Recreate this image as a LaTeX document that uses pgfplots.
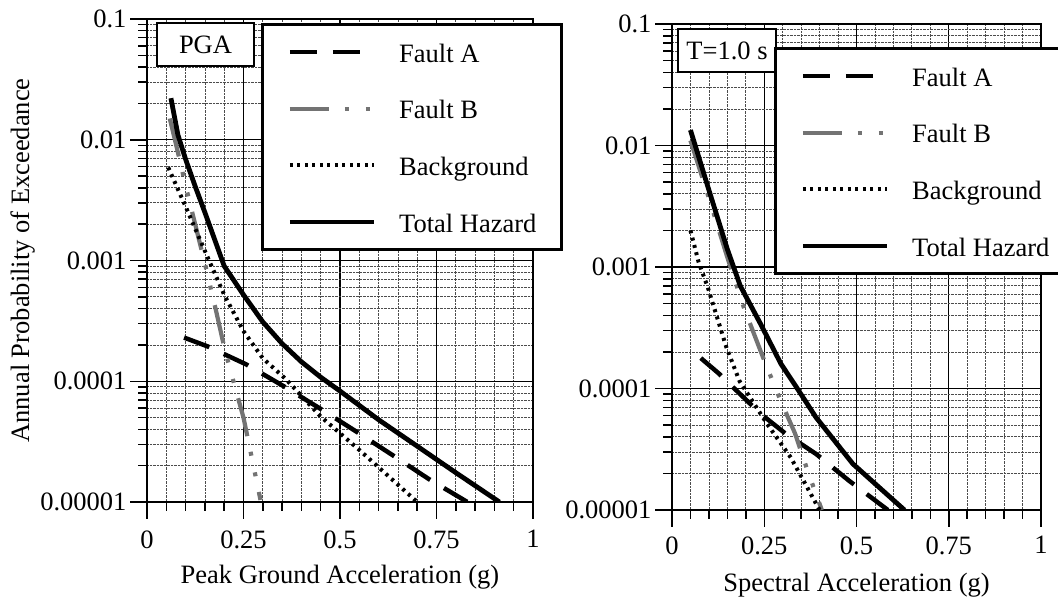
\documentclass[border=0pt]{standalone}
\usepackage{fontspec}
\setmainfont{Liberation Serif}
\usepackage{pgfplots}
\pgfplotsset{compat=1.18}
\newcommand{\bigf}{\fontsize{26.5}{30}\selectfont}
\tikzset{
  faultA/.style={black,line width=4.5pt,dash pattern=on 27pt off 16pt},
  faultB/.style={black!55,line width=4.2pt,dash pattern=on 39pt off 16pt on 4pt off 17pt on 4pt off 16pt},
  bgr/.style={black,line width=4pt,dash pattern=on 3pt off 4.5pt},
  total/.style={black,line width=4.8pt},
}
\begin{document}
\begin{tikzpicture}
\useasboundingbox (0,0) rectangle (1058pt,598pt);
% ---------------- left: PGA
\begin{axis}[
  scale only axis, ymode=log, xmin=0, xmax=1, ymin=1e-5, ymax=0.1,
  at={(147pt,96pt)}, anchor=south west, width=386pt, height=483pt,
  xtick={0,0.25,0.5,0.75,1}, xticklabels={0,0.25,0.5,0.75,1},
  minor xtick={0.05,0.1,0.15,0.2,0.3,0.35,0.4,0.45,0.55,0.6,0.65,0.7,0.8,0.85,0.9,0.95},
  ytick={1e-5,1e-4,1e-3,1e-2,1e-1}, yticklabels={0.00001,0.0001,0.001,0.01,0.1},
  minor ytick={2e-5,3e-5,4e-5,5e-5,6e-5,7e-5,8e-5,9e-5,2e-4,3e-4,4e-4,5e-4,6e-4,7e-4,8e-4,9e-4,2e-3,3e-3,4e-3,5e-3,6e-3,7e-3,8e-3,9e-3,2e-2,3e-2,4e-2,5e-2,6e-2,7e-2,8e-2,9e-2},
  grid=both,
  major grid style={black,line width=1.2pt},
  minor grid style={black!70,densely dotted,line width=0.8pt},
  tick align=outside, xtick pos=left, ytick pos=left,
  major tick length=17pt, minor tick length=9pt,
  tick style={black,line width=1.5pt},
  axis line style={line width=2.8pt},
  tick label style={font=\bigf},
  xticklabel style={yshift=-8pt},
  label style={font=\bigf},
  xlabel={Peak Ground Acceleration (g)},
  ylabel={Annual Probability of Exceedance},
  xlabel style={at={(axis description cs:0.5,-0.155)},anchor=center},
  ylabel style={at={(axis description cs:-0.322,0.5)},anchor=center},
  legend image code/.code={\draw[#1] (0pt,0pt) -- (84pt,0pt);},
  legend cell align=left,
  legend style={at={(rel axis cs:0.2953,0.9917)},anchor=north west,
    draw=black, line width=2.8pt, fill=white,
    inner xsep=25pt, inner ysep=13.8pt, row sep=29.3pt, font=\bigf,
    nodes={inner sep=0pt, text height=24pt, text depth=3.4pt},
    column sep=23pt},
]
\addplot[faultA] coordinates {(0.096,0.00023)(0.156,0.000195)(0.257,0.000138)(0.354,0.000091)(0.45,0.000059)(0.544,0.000038)(0.64,0.000024)(0.73,0.0000155)(0.83,0.00001)};
\addlegendentry{Fault A}
\addplot[faultB] coordinates {(0.059,0.015)(0.073,0.0098)(0.105,0.0036)(0.152,0.00089)(0.18,0.00037)(0.202,0.00018)(0.23,0.000085)(0.25,0.00005)(0.294,0.0000104)};
\addlegendentry{Fault B}
\addplot[bgr] coordinates {(0.055,0.0059)(0.1,0.0028)(0.15,0.0012)(0.2,0.00052)(0.25,0.00026)(0.3,0.000155)(0.36,0.000104)(0.45,0.000051)(0.55,0.000027)(0.7,0.00001)};
\addlegendentry{Background}
\addplot[total] coordinates {(0.062,0.0221)(0.08,0.011)(0.1,0.0069)(0.125,0.0041)(0.15,0.0025)(0.175,0.0015)(0.2,0.0009)(0.25,0.00052)(0.3,0.00031)(0.35,0.000205)(0.4,0.000145)(0.45,0.000108)(0.5,0.000083)(0.6,0.000048)(0.7,0.000029)(0.8,0.0000175)(0.913,0.00001)};
\addlegendentry{Total Hazard}
\node[draw, line width=2.8pt, fill=white, minimum width=97pt, minimum height=43pt, inner sep=0pt, font=\bigf] at (rel axis cs:0.1516,0.9472) {PGA};
\end{axis}
% ---------------- right: T = 1.0 s
\begin{axis}[
  scale only axis, ymode=log, xmin=0, xmax=1, ymin=1e-5, ymax=0.1,
  at={(672pt,88pt)}, anchor=south west, width=369pt, height=486pt,
  xtick={0,0.25,0.5,0.75,1}, xticklabels={0,0.25,0.5,0.75,1},
  minor xtick={0.05,0.1,0.15,0.2,0.3,0.35,0.4,0.45,0.55,0.6,0.65,0.7,0.8,0.85,0.9,0.95},
  ytick={1e-5,1e-4,1e-3,1e-2,1e-1}, yticklabels={0.00001,0.0001,0.001,0.01,0.1},
  minor ytick={2e-5,3e-5,4e-5,5e-5,6e-5,7e-5,8e-5,9e-5,2e-4,3e-4,4e-4,5e-4,6e-4,7e-4,8e-4,9e-4,2e-3,3e-3,4e-3,5e-3,6e-3,7e-3,8e-3,9e-3,2e-2,3e-2,4e-2,5e-2,6e-2,7e-2,8e-2,9e-2},
  grid=both,
  major grid style={black,line width=1.2pt},
  minor grid style={black!70,densely dotted,line width=0.8pt},
  tick align=outside, xtick pos=left, ytick pos=left,
  major tick length=17pt, minor tick length=9pt,
  tick style={black,line width=1.5pt},
  axis line style={line width=2.8pt},
  tick label style={font=\bigf},
  xticklabel style={yshift=-6pt},
  label style={font=\bigf},
  xlabel={Spectral Acceleration (g)},
  xlabel style={at={(axis description cs:0.5,-0.154)},anchor=center},
  legend image code/.code={\draw[#1] (0pt,0pt) -- (84pt,0pt);},
  legend cell align=left,
  legend style={at={(rel axis cs:0.2764,0.9527)},anchor=north west,
    draw=black, line width=2.8pt, fill=white,
    inner xsep=25pt, inner ysep=13.8pt, row sep=29.3pt, font=\bigf,
    nodes={inner sep=0pt, text height=24pt, text depth=3.4pt},
    column sep=23pt},
]
\addplot[faultA] coordinates {(0.078,0.000178)(0.128,0.000132)(0.166,0.000102)(0.24,0.000062)(0.31,0.000042)(0.39,0.000029)(0.48,0.0000174)(0.585,0.00001)};
\addlegendentry{Fault A}
\addplot[faultB] coordinates {(0.05,0.011)(0.1,0.0037)(0.15,0.0012)(0.194,0.00047)(0.25,0.00017)(0.294,0.00008)(0.333,0.000043)(0.37,0.00002)(0.406,0.00001)};
\addlegendentry{Fault B}
\addplot[bgr] coordinates {(0.05,0.002)(0.072,0.0011)(0.097,0.00068)(0.147,0.00022)(0.183,0.000115)(0.258,0.000051)(0.322,0.000027)(0.4,0.00001)};
\addlegendentry{Background}
\addplot[total] coordinates {(0.05,0.0134)(0.1,0.0043)(0.15,0.0014)(0.185,0.0007)(0.24,0.00034)(0.295,0.00016)(0.335,0.000105)(0.39,0.000058)(0.49,0.000024)(0.63,0.00001)};
\addlegendentry{Total Hazard}
\node[draw, line width=2.8pt, fill=white, minimum width=98pt, minimum height=43pt, inner sep=0pt, font=\bigf] at (rel axis cs:0.149,0.9455) {T=1.0 s};
\end{axis}
\end{tikzpicture}
\end{document}
